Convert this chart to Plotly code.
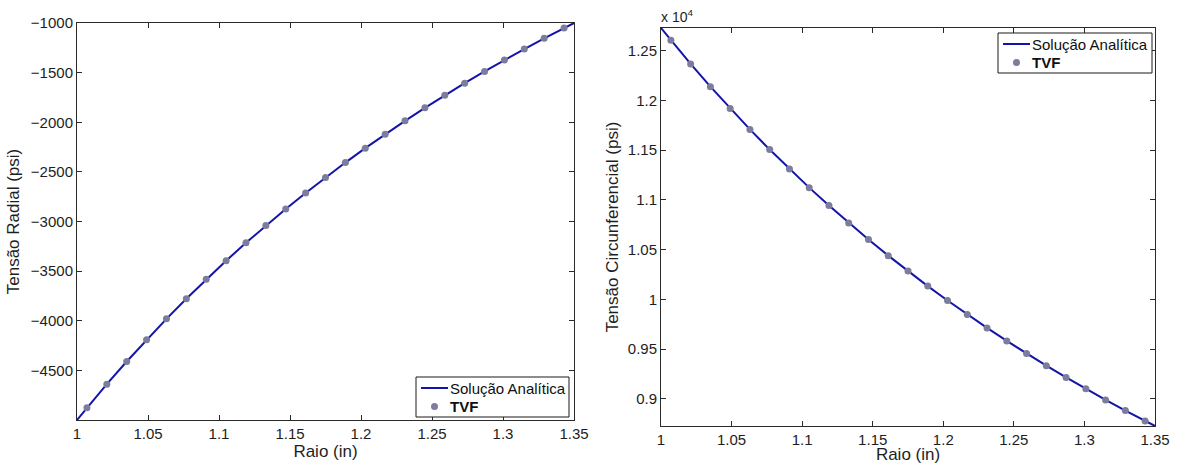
import plotly.graph_objects as go

# Radial positions of the finite-volume cell centres (in)
raio_tvf = [1.007, 1.021, 1.035, 1.049, 1.063, 1.077, 1.091, 1.105, 1.119,
            1.133, 1.147, 1.161, 1.175, 1.189, 1.203, 1.217, 1.231, 1.245,
            1.259, 1.273, 1.287, 1.301, 1.315, 1.329, 1.343]

# Finite-volume results (psi)
radial_tvf = [-4877.2, -4639.2, -4410.7, -4191.3, -3980.6, -3778.0, -3583.1,
              -3395.6, -3215.1, -3041.3, -2873.7, -2712.3, -2556.5, -2406.2,
              -2261.1, -2121.0, -1985.7, -1854.9, -1728.4, -1606.1, -1487.8,
              -1373.2, -1262.3, -1154.9, -1050.8]
circ_tvf = [12603.7, 12365.6, 12137.1, 11917.8, 11707.0, 11504.4, 11309.6,
            11122.1, 10941.6, 10767.7, 10600.2, 10438.7, 10283.0, 10132.6,
            9987.6, 9847.5, 9712.1, 9581.3, 9454.9, 9332.6, 9214.2, 9099.7,
            8988.8, 8881.3, 8777.3]

# Analytic solution sampled at the walls and the cell centres
raio_anal = [1.0] + raio_tvf + [1.35]
radial_anal = [-5000.0] + radial_tvf + [-1000.0]
circ_anal = [12726.4] + circ_tvf + [8726.4]

# Axis ticks
x_ticks = [1.0, 1.05, 1.1, 1.15, 1.2, 1.25, 1.3, 1.35]
x_ticktext = ["1", "1.05", "1.1", "1.15", "1.2", "1.25", "1.3", "1.35"]
radial_ticks = [-4500, -4000, -3500, -3000, -2500, -2000, -1500, -1000]
circ_ticks = [9000, 9500, 10000, 10500, 11000, 11500, 12000, 12500]
circ_ticktext = ["0.9", "0.95", "1", "1.05", "1.1", "1.15", "1.2", "1.25"]

legend_names = ["Solução Analítica", "<b>TVF</b>"]

LINE_COLOR = "#1414a8"
MARKER_COLOR = "#7c7c9c"
AXIS_COLOR = "#2a2a2a"
TEXT_COLOR = "#1e1e1e"
FONT = "Liberation Sans, Arial, sans-serif"
W, H = 1180, 464

fig = go.Figure()

for xa, ya, y_anal, y_tvf in [("x", "y", radial_anal, radial_tvf),
                              ("x2", "y2", circ_anal, circ_tvf)]:
    fig.add_trace(go.Scatter(
        x=raio_anal, y=y_anal, mode="lines", name=legend_names[0],
        line=dict(color=LINE_COLOR, width=2), xaxis=xa, yaxis=ya))
    fig.add_trace(go.Scatter(
        x=raio_tvf, y=y_tvf, mode="markers", name=legend_names[1],
        marker=dict(color=MARKER_COLOR, size=7, line=dict(width=0)),
        xaxis=xa, yaxis=ya))


def px_x(p):
    return p / W


def px_y(p):
    return 1 - p / H


axis_common = dict(
    showline=True, linecolor=AXIS_COLOR, linewidth=1, mirror="ticks",
    ticks="inside", ticklen=5, tickcolor=AXIS_COLOR, tickwidth=1,
    showgrid=False, zeroline=False,
    tickfont=dict(family=FONT, size=15, color=TEXT_COLOR),
)
title_font = dict(family=FONT, size=17, color=TEXT_COLOR)

fig.update_layout(
    width=W, height=H,
    margin=dict(l=0, r=0, t=0, b=0, autoexpand=False),
    paper_bgcolor="white", plot_bgcolor="white",
    font=dict(family=FONT, size=15, color=TEXT_COLOR),
    showlegend=False,
    xaxis=dict(domain=[px_x(77), px_x(574)], range=[1.0, 1.35],
               tickvals=x_ticks, ticktext=x_ticktext, anchor="y",
               title=dict(text="Raio (in)", font=title_font, standoff=0),
               **axis_common),
    yaxis=dict(domain=[px_y(420), px_y(23)], range=[-5000, -1000],
               tickvals=radial_ticks, anchor="x",
               title=dict(text="Tensão Radial (psi)", font=title_font, standoff=6),
               **axis_common),
    xaxis2=dict(domain=[px_x(661), px_x(1155)], range=[1.0, 1.35],
                tickvals=x_ticks, ticktext=x_ticktext, anchor="y2",
                title=dict(text="Raio (in)", font=title_font, standoff=0),
                **axis_common),
    yaxis2=dict(domain=[px_y(426), px_y(28)], range=[8726.4, 12726.4],
                tickvals=circ_ticks, ticktext=circ_ticktext, anchor="x2",
                title=dict(text="Tensão Circunferencial (psi)", font=title_font, standoff=4),
                **axis_common),
)


def add_legend_box(left, top, right, bottom):
    """Boxed legend in the MATLAB style: line sample, dot sample and labels."""
    fig.add_shape(type="rect", xref="paper", yref="paper",
                  x0=px_x(left), x1=px_x(right), y0=px_y(bottom), y1=px_y(top),
                  line=dict(color="#1a1a1a", width=1), fillcolor="white", layer="above")
    row1 = top + 11
    row2 = top + 29.5
    fig.add_shape(type="line", xref="paper", yref="paper",
                  x0=px_x(left + 5), x1=px_x(left + 32), y0=px_y(row1), y1=px_y(row1),
                  line=dict(color=LINE_COLOR, width=2), layer="above")
    cx = left + 18.5
    fig.add_shape(type="circle", xref="paper", yref="paper",
                  x0=px_x(cx - 3.5), x1=px_x(cx + 3.5),
                  y0=px_y(row2 + 3.5), y1=px_y(row2 - 3.5),
                  line=dict(width=0), fillcolor=MARKER_COLOR, layer="above")
    for name, row in zip(legend_names, (row1, row2)):
        fig.add_annotation(text=name, xref="paper", yref="paper",
                           x=px_x(left + 33), y=px_y(row),
                           xanchor="left", yanchor="middle", showarrow=False,
                           borderpad=0, font=dict(family=FONT, size=15, color="#101010"))


add_legend_box(416, 377, 569, 417)
add_legend_box(998, 33, 1152, 73)

# Scale factor shown above the circumferential axis
fig.add_annotation(
    text="x 10<sup>4</sup>", x=px_x(660), y=px_y(26), xref="paper", yref="paper",
    xanchor="left", yanchor="bottom", showarrow=False, borderpad=0,
    font=dict(family=FONT, size=14, color=TEXT_COLOR))

fig.write_html("out.html")
